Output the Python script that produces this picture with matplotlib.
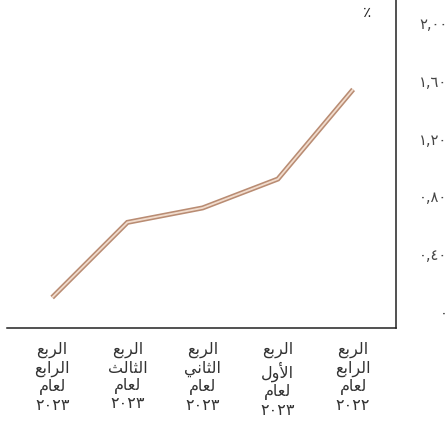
import matplotlib
matplotlib.use("Agg")
import matplotlib.pyplot as plt

# Quarterly values (percent), chronological order
quarters = [
    ["الربع", "الرابع", "لعام", "٢٠٢٢"],
    ["الربع", "الأول", "لعام", "٢٠٢٣"],
    ["الربع", "الثاني", "لعام", "٢٠٢٣"],
    ["الربع", "الثالث", "لعام", "٢٠٢٣"],
    ["الربع", "الرابع", "لعام", "٢٠٢٣"],
]
values = [1.54, 0.92, 0.72, 0.62, 0.10]
y_ticks = [0.0, 0.4, 0.8, 1.2, 1.6, 2.0]
y_tick_labels = ["٠", "٠,٤٠", "٠,٨٠", "١,٢٠", "١,٦٠", "٢,٠٠"]
unit_label = "٪"

# --- minimal Arabic contextual shaping (isolated, final, initial, medial) ---
FORMS = {
    "ا": ("\uFE8D", "\uFE8E", None, None),
    "أ": ("\uFE83", "\uFE84", None, None),
    "ر": ("\uFEAD", "\uFEAE", None, None),
    "و": ("\uFEED", "\uFEEE", None, None),
    "ل": ("\uFEDD", "\uFEDE", "\uFEDF", "\uFEE0"),
    "ب": ("\uFE8F", "\uFE90", "\uFE91", "\uFE92"),
    "ع": ("\uFEC9", "\uFECA", "\uFECB", "\uFECC"),
    "ث": ("\uFE99", "\uFE9A", "\uFE9B", "\uFE9C"),
    "ن": ("\uFEE5", "\uFEE6", "\uFEE7", "\uFEE8"),
    "ي": ("\uFEF1", "\uFEF2", "\uFEF3", "\uFEF4"),
    "م": ("\uFEE1", "\uFEE2", "\uFEE3", "\uFEE4"),
}
LAM_ALEF = {"ا": ("\uFEFB", "\uFEFC"), "أ": ("\uFEF7", "\uFEF8")}


def joins_left(ch):
    return ch in FORMS and FORMS[ch][2] is not None


def shape(word):
    if not any(c in FORMS for c in word):
        return word
    out = []
    i = 0
    n = len(word)
    while i < n:
        ch = word[i]
        prev_joins = i > 0 and joins_left(word[i - 1])
        if ch == "ل" and i + 1 < n and word[i + 1] in LAM_ALEF:
            iso, fin = LAM_ALEF[word[i + 1]]
            out.append(fin if prev_joins else iso)
            i += 2
            continue
        iso, fin, ini, med = FORMS[ch]
        next_ok = i + 1 < n and word[i + 1] in FORMS and ini is not None
        if prev_joins and next_ok:
            out.append(med)
        elif prev_joins:
            out.append(fin)
        elif next_ok:
            out.append(ini)
        else:
            out.append(iso)
        i += 1
    return "".join(reversed(out))


labels = ["\n".join(shape(w) for w in q) for q in quarters]
positions = list(range(len(values)))

fig = plt.figure(figsize=(4.48, 4.24), dpi=100)
ax = fig.add_axes([7 / 448, 1 - 328 / 424, 389 / 448, 328 / 424])

ax.plot(positions, values, color="#b98c73", lw=3.6, solid_capstyle="butt",
        solid_joinstyle="miter", zorder=2)
ax.plot(positions, values, color="#f1dccd", lw=1.3, solid_capstyle="butt",
        solid_joinstyle="miter", zorder=3)

ax.set_xlim(4.6, -0.57)
ax.set_ylim(-0.111, 2.159)

ax.set_xticks(positions)
ax.set_xticklabels(labels, fontsize=11.5, linespacing=1.2, color="#333333",
                   family="DejaVu Sans")
ax.set_yticks(y_ticks)
ax.set_yticklabels(y_tick_labels, fontsize=10.5, color="#444444")
ax.yaxis.tick_right()
ax.tick_params(axis="y", length=0, pad=37)
ax.tick_params(axis="x", length=0, pad=10)
for lab in ax.get_yticklabels():
    lab.set_horizontalalignment("right")

for side in ("top", "left"):
    ax.spines[side].set_visible(False)
for side in ("bottom", "right"):
    ax.spines[side].set_color("#222222")
    ax.spines[side].set_linewidth(1.1)

ax.text(0.925, 0.963, unit_label, transform=ax.transAxes, fontsize=11,
        color="#222222", ha="center", va="center")

fig.savefig("out.png", dpi=100)
